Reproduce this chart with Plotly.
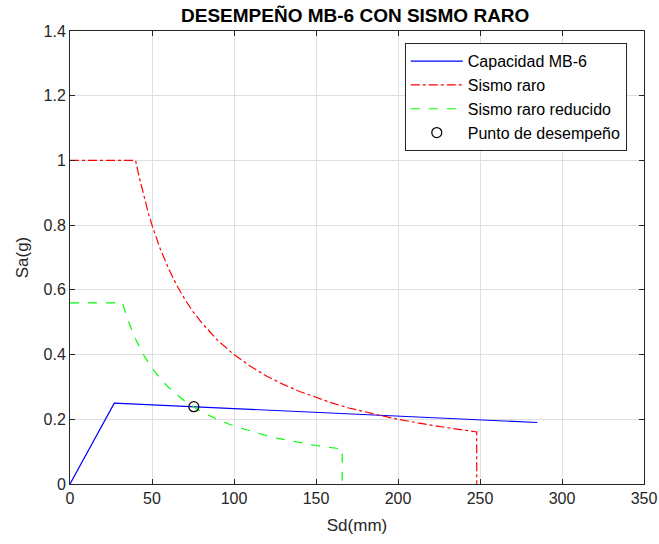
import plotly.graph_objects as go

# Capacity curve (bilinear)
cap_sd = [0, 27, 285]
cap_sa = [0, 0.25, 0.19]

# Rare earthquake demand spectrum
raro_sd = [0, 40, 42, 45, 48, 50, 55, 60, 65, 70, 75, 80, 90, 100, 110, 120, 130,
           140, 150, 160, 170, 180, 190, 200, 210, 220, 230, 240, 248, 248]
raro_sa = [1.0, 1.0, 0.952, 0.889, 0.833, 0.8, 0.727, 0.667, 0.615, 0.571, 0.533,
           0.5, 0.444, 0.4, 0.364, 0.333, 0.308, 0.286, 0.267, 0.25, 0.235, 0.222,
           0.211, 0.2, 0.190, 0.182, 0.174, 0.167, 0.161, 0.0]

# Reduced rare earthquake demand spectrum
red_sd = [0, 32, 34, 36, 40, 45, 50, 55, 60, 65, 70, 80, 90, 100, 110, 120, 130,
          140, 150, 160, 166, 166]
red_sa = [0.56, 0.56, 0.527, 0.498, 0.448, 0.398, 0.358, 0.326, 0.299, 0.276,
          0.256, 0.224, 0.199, 0.179, 0.163, 0.149, 0.138, 0.128, 0.119, 0.112,
          0.108, 0.0]

# Performance point
pp_sd = [75.5]
pp_sa = [0.239]

FONT = "Liberation Sans, Arial"

fig = go.Figure()
fig.add_trace(go.Scatter(x=cap_sd, y=cap_sa, mode="lines", name="Capacidad MB-6",
                         line=dict(color="#0000ff", width=1.2)))
fig.add_trace(go.Scatter(x=raro_sd, y=raro_sa, mode="lines", name="Sismo raro",
                         line=dict(color="#ff0000", width=1.2, dash="dashdot")))
fig.add_trace(go.Scatter(x=red_sd, y=red_sa, mode="lines", name="Sismo raro reducido",
                         line=dict(color="#00ff00", width=1.2, dash="dash")))
fig.add_trace(go.Scatter(x=pp_sd, y=pp_sa, mode="markers", name="Punto de desempeño",
                         marker=dict(symbol="circle-open", size=10,
                                     color="#000000", line=dict(width=1.2))))

axis_common = dict(
    showline=True, linecolor="#262626", linewidth=1, mirror="allticks",
    ticks="inside", ticklen=5, tickcolor="#262626",
    showgrid=True, gridcolor="#dfdfdf", gridwidth=1, zeroline=False,
    automargin=False,
    tickfont=dict(family=FONT, size=16, color="#262626"),
)

fig.update_layout(
    width=659, height=544,
    margin=dict(l=70, r=15, t=31, b=60),
    paper_bgcolor="white", plot_bgcolor="white",
    title=dict(text="<b>DESEMPEÑO MB-6 CON SISMO RARO</b>", x=0.539, xanchor="center",
               y=0.972, yanchor="middle",
               font=dict(family=FONT, size=19, color="#000000")),
    xaxis=dict(range=[0, 350], dtick=50,
               title=dict(text="Sd(mm)", standoff=12,
                          font=dict(family=FONT, size=17, color="#262626")),
               **axis_common),
    yaxis=dict(range=[0, 1.4], dtick=0.2,
               title=dict(text="Sa(g)", standoff=10,
                          font=dict(family=FONT, size=17, color="#262626")),
               **axis_common),
    legend=dict(x=0.970, y=0.973, xanchor="right", yanchor="top",
                bgcolor="white", bordercolor="#262626", borderwidth=1,
                itemwidth=52,
                font=dict(family=FONT, size=16, color="#000000"),
                tracegroupgap=0),
    showlegend=True,
)

fig.write_html("out.html")
